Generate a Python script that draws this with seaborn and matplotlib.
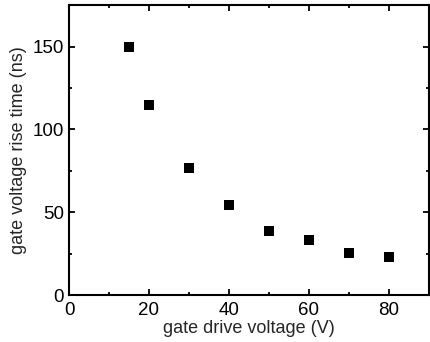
import numpy as np
import pandas as pd
import matplotlib
matplotlib.use('Agg')
import matplotlib.pyplot as plt
import seaborn as sns
from matplotlib.ticker import MultipleLocator

# data
drive_voltage = [15, 20, 30, 40, 50, 60, 70, 80]
rise_time = [150, 115, 77, 54.5, 39, 33, 25.5, 23]

df = pd.DataFrame({'voltage': drive_voltage, 'rise': rise_time})

sns.set_style('ticks')
plt.rcParams['font.family'] = ['Liberation Sans', 'DejaVu Sans']

fig = plt.figure(figsize=(4.3, 3.42), dpi=100)
ax = fig.add_axes([0.1605, 0.137, 0.837, 0.848])

sns.scatterplot(x='voltage', y='rise', data=df, ax=ax, marker='s', s=55,
                color='black', edgecolor='black', linewidth=0)

ax.set_xlim(0, 90)
ax.set_ylim(0, 175)
ax.xaxis.set_major_locator(MultipleLocator(20))
ax.xaxis.set_minor_locator(MultipleLocator(10))
ax.yaxis.set_major_locator(MultipleLocator(50))
ax.yaxis.set_minor_locator(MultipleLocator(25))

ax.tick_params(which='both', direction='in', top=True, right=True,
               width=1.3, labelsize=13.5, colors='black')
ax.tick_params(which='major', length=4.5)
ax.tick_params(which='minor', length=2.5)
ax.tick_params(axis='x', pad=5)
for sp in ax.spines.values():
    sp.set_linewidth(1.5)
    sp.set_color('black')

ax.set_xlabel('gate drive voltage (V)', fontsize=13, labelpad=1)
ax.set_ylabel('gate voltage rise time (ns)', fontsize=13, labelpad=4)

fig.savefig('out.png', dpi=100)
